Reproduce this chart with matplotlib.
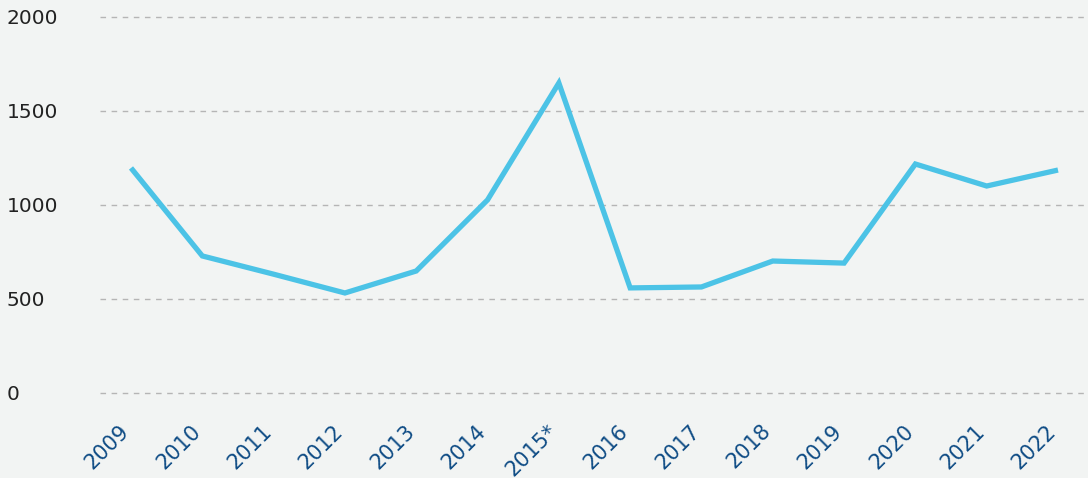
import matplotlib.pyplot as plt
from matplotlib import transforms

# data
years = ['2009', '2010', '2011', '2012', '2013', '2014', '2015*',
         '2016', '2017', '2018', '2019', '2020', '2021', '2022']
values = [1197, 729, 632, 532, 649, 1027, 1649,
          559, 564, 702, 691, 1218, 1101, 1186]
yticks = [0, 500, 1000, 1500, 2000]

# style
bg = '#f2f4f3'
linecolor = '#4cc3e6'
xlabcolor = '#0f4c85'
ylabcolor = '#222222'

fig = plt.figure(figsize=(10.88, 4.78), dpi=100, facecolor=bg)
ax = fig.add_axes([100 / 1088, 1 - 393 / 478, 988 / 1088, 376 / 478])
ax.set_facecolor(bg)

x = list(range(len(years)))
ax.plot(x, values, color=linecolor, lw=3.8, solid_joinstyle='miter',
        solid_capstyle='butt', zorder=3)

ax.set_ylim(0, 2000)
ax.set_xlim(-31 / 71.3, 13 + 30 / 71.3)
ax.set_yticks(yticks)
ax.set_yticklabels([str(v) for v in yticks], fontsize=14.5, color=ylabcolor,
                   family='DejaVu Sans', ha='left')
ax.tick_params(axis='y', length=0, pad=93 * 0.72)
ax.grid(axis='y', color='#b5b5b5', ls=(0, (4, 4)), lw=1)
for g in ax.get_ygridlines():
    g.set_clip_on(False)

ax.set_xticks(x)
ax.set_xticklabels(years, rotation=45, ha='right', va='top', rotation_mode='anchor',
                   fontsize=15, color=xlabcolor, family='DejaVu Sans')
ax.tick_params(axis='x', length=0, pad=20)
# nudge the rotated labels a bit to the left
shift = transforms.ScaledTranslation(-12 / 100, 0, fig.dpi_scale_trans)
for lab in ax.get_xticklabels():
    lab.set_transform(lab.get_transform() + shift)

for s in ax.spines.values():
    s.set_visible(False)

plt.savefig('out.png', dpi=100, facecolor=bg)
